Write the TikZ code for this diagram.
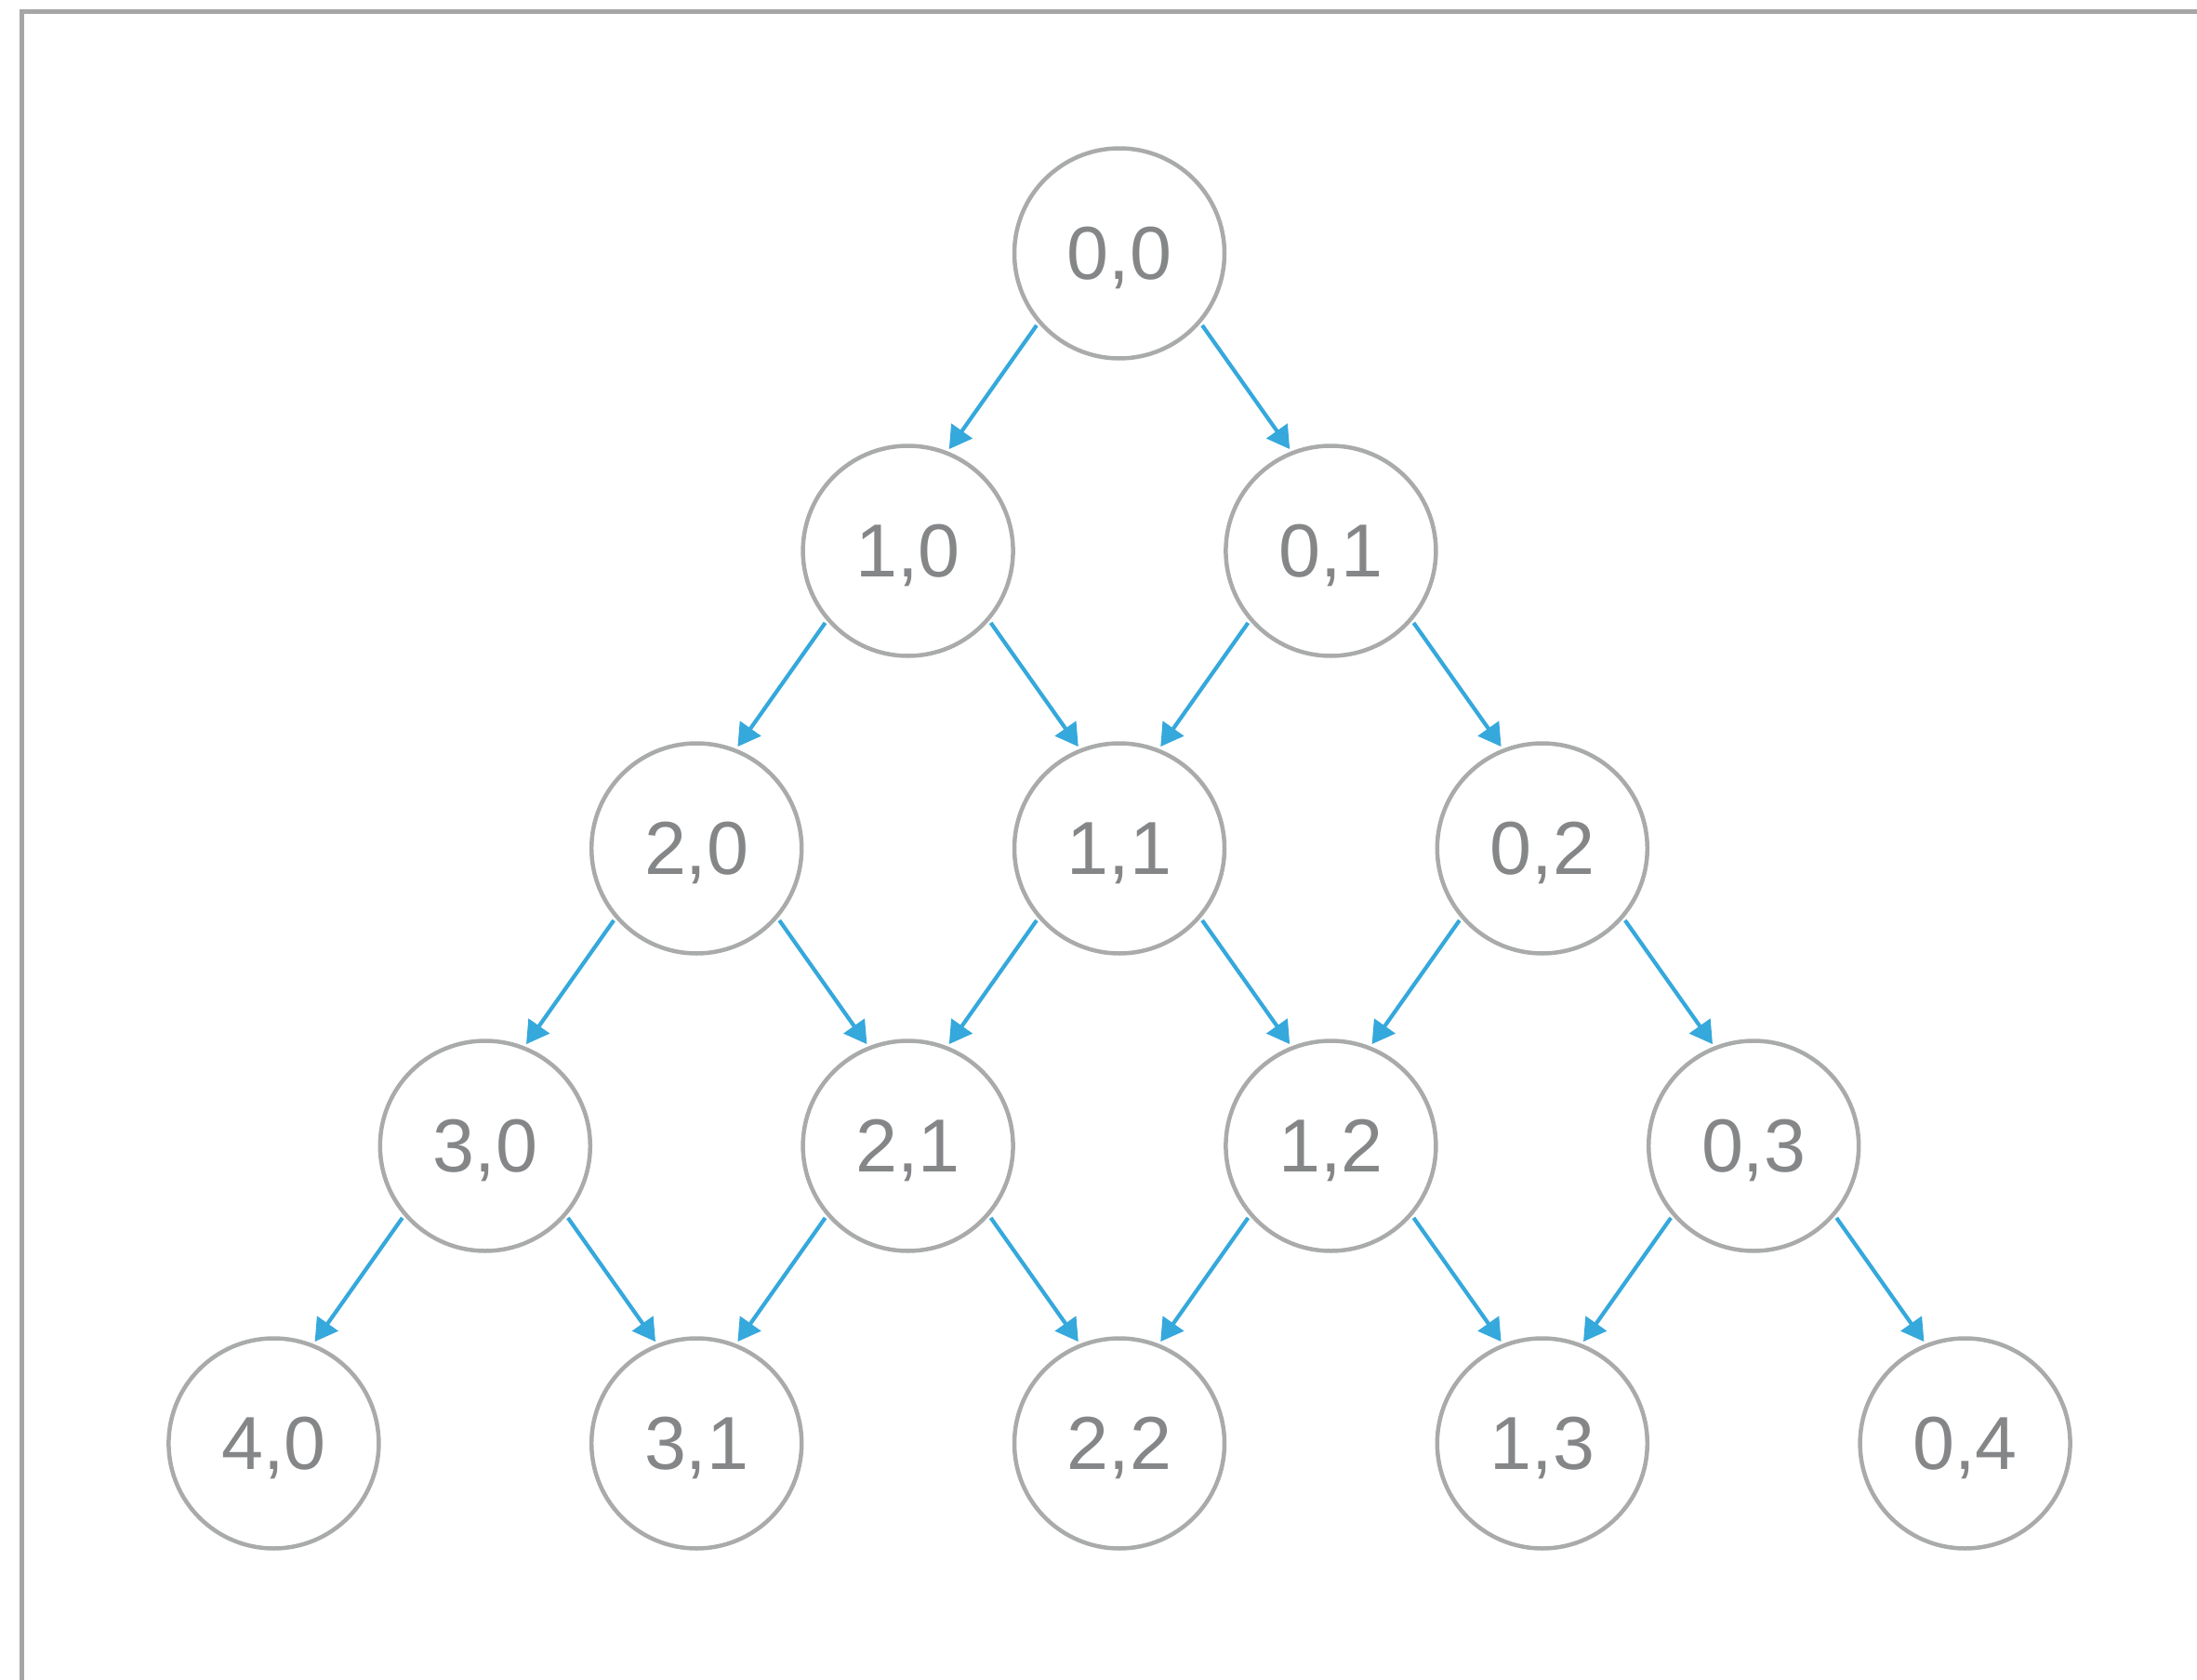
\documentclass[tikz,border=0pt]{standalone}
\usepackage{fontspec}
\setmainfont{Liberation Sans}
\usetikzlibrary{arrows.meta}
\definecolor{edgec}{HTML}{35A8DC}
\definecolor{ringc}{HTML}{A9ABAA}
\definecolor{textc}{HTML}{848688}
\definecolor{framec}{HTML}{A6A6A6}

\begin{document}
\begin{tikzpicture}[
      cell/.style={circle,draw=ringc,line width=0.045cm,minimum size=2.26cm,inner sep=0pt,outer sep=0.05cm,
        text depth=0pt,text=textc,font=\fontsize{23}{27}\selectfont},
      edge/.style={draw=edgec,line width=0.042cm,-{Triangle[length=0.24cm,width=0.27cm]}}]
    \useasboundingbox (0,0) rectangle (23.63,-18.07);
    \draw[framec,line width=0.05cm] (23.63,-0.125) -- (0.235,-0.125) -- (0.235,-18.07);
    % grid of states, row r holds i+j=r
    \foreach \r in {0,...,4}
      \foreach \j in {0,...,\r} {
        \pgfmathtruncatemacro\i{\r-\j}
        \node[cell] (n\i\j) at ({12.04+(\j-\i)*2.274},{-2.725-\r*3.2}) {\i,\j};
      }
    % each state feeds the two below it
    \foreach \r in {0,...,3}
      \foreach \j in {0,...,\r} {
        \pgfmathtruncatemacro\i{\r-\j}
        \pgfmathtruncatemacro\ii{\i+1}
        \pgfmathtruncatemacro\jj{\j+1}
        \draw[edge] (n\i\j.221) -- (n\ii\j.68);
        \draw[edge] (n\i\j.-41) -- (n\i\jj.112);
      }
  \end{tikzpicture}
\end{document}
